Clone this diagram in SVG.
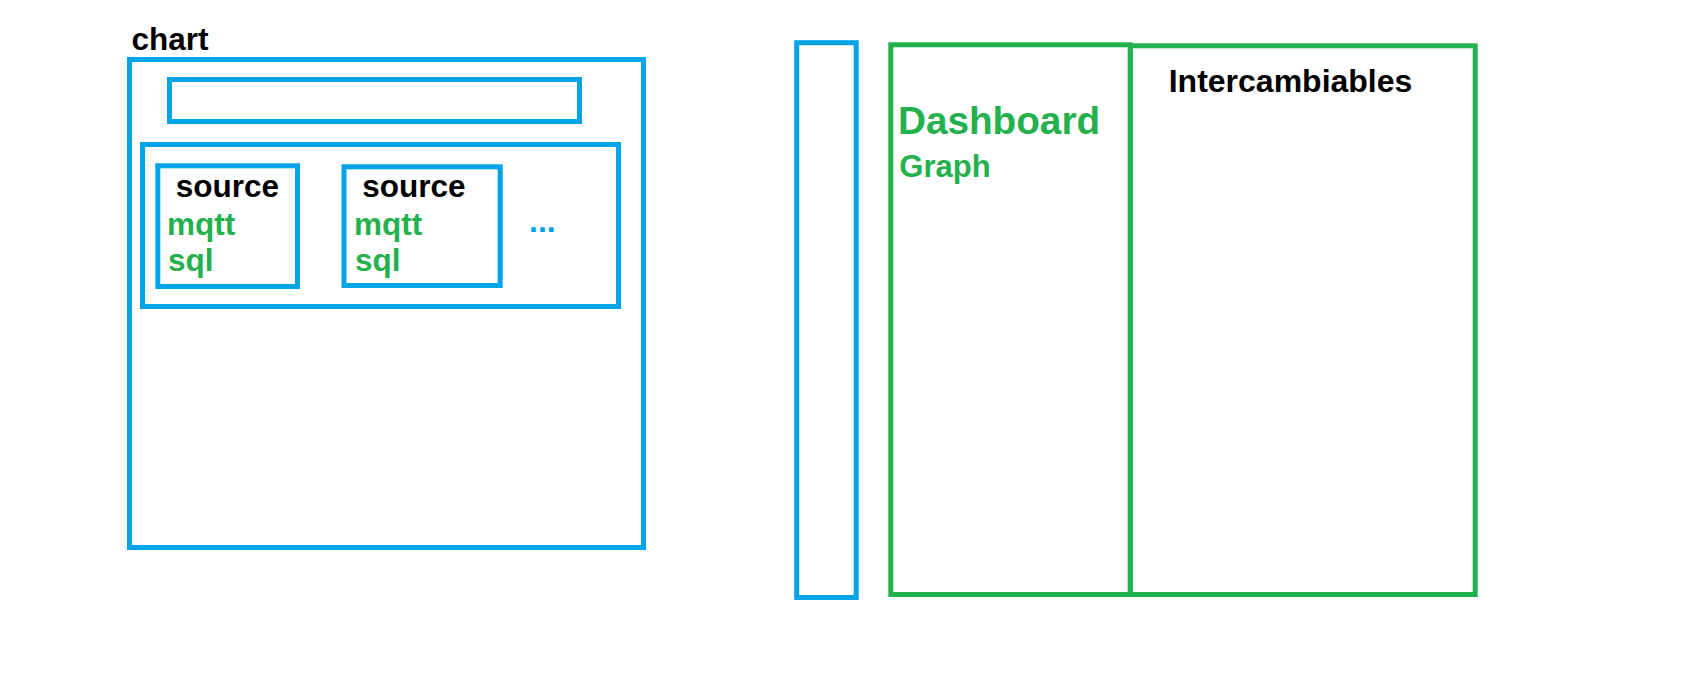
<svg xmlns="http://www.w3.org/2000/svg" width="1691" height="676" viewBox="0 0 1691 676">
<style>
.b{fill:none;stroke:#00A2E8;stroke-width:5}
.g{fill:none;stroke:#22B14C;stroke-width:5}
text{font-family:"Liberation Sans",Arial,sans-serif;font-weight:bold;font-size:31.5px}
.k{fill:#000}
.tg{fill:#22B14C}
.tb{fill:#00A2E8}
.big{font-size:38.7px}
.f32{font-size:32px}
.f31{font-size:31px}
</style>
<rect width="1691" height="676" fill="#fff"/>
<g id="chart">
<rect class="b" x="129.5" y="59.5" width="514" height="488"/>
<text class="k" x="131.5" y="50">chart</text>
</g>
<g id="title-bar">
<rect class="b" x="169.5" y="79.5" width="410" height="42"/>
</g>
<g id="sources">
<rect class="b" x="142.5" y="144.5" width="476" height="162"/>
<text class="tb f32" x="529" y="232">...</text>
</g>
<g id="source1">
<rect class="b" x="157.8" y="165.8" width="139.7" height="120.7"/>
<text class="k" x="175.7" y="197">source</text>
<text class="tg" x="167" y="234.5">mqtt</text>
<text class="tg" x="168" y="271">sql</text>
</g>
<g id="source2">
<rect class="b" x="344" y="166.8" width="156.2" height="118.7"/>
<text class="k" x="362.3" y="197">source</text>
<text class="tg" x="354" y="234.5">mqtt</text>
<text class="tg" x="355" y="271">sql</text>
</g>
<g id="sidebar">
<rect class="b" x="796.7" y="42.7" width="59.5" height="554.8"/>
</g>
<g id="dashboard">
<rect class="g" x="890.8" y="44.8" width="239.4" height="549.7"/>
<text class="tg big" x="898" y="134">Dashboard</text>
<text class="tg f31" x="899.3" y="176.7">Graph</text>
</g>
<g id="intercambiables">
<rect class="g" x="1130.5" y="45.8" width="344.7" height="548.7"/>
<text class="k f32" x="1168.7" y="91.7">Intercambiables</text>
</g>
<g id="connectors"/>
</svg>
